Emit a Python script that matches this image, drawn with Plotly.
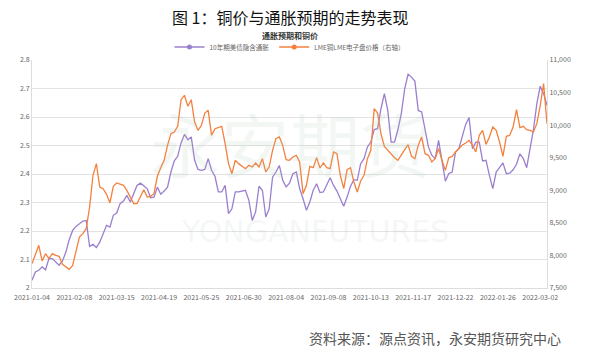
import plotly.graph_objects as go
import pandas as pd

# trading days (two holidays skipped), data sampled every second trading day
holidays = ["2021-05-03", "2021-05-31"]
days = [d.strftime("%Y-%m-%d") for d in pd.bdate_range("2021-01-04", "2022-03-10") if d.strftime("%Y-%m-%d") not in holidays][:305]

breakeven = [2.027, 2.056, 2.062, 2.074, 2.064, 2.103, 2.103, 2.091, 2.080, 2.095,
             2.126, 2.170, 2.202, 2.216, 2.226, 2.235, 2.237, 2.146, 2.153, 2.142,
             2.161, 2.191, 2.220, 2.214, 2.255, 2.263, 2.296, 2.305, 2.325, 2.302,
             2.331, 2.360, 2.368, 2.360, 2.349, 2.317, 2.319, 2.354, 2.329, 2.340,
             2.354, 2.407, 2.446, 2.462, 2.509, 2.539, 2.520, 2.530, 2.448, 2.416,
             2.413, 2.416, 2.454, 2.413, 2.392, 2.337, 2.337, 2.360, 2.261, 2.278,
             2.337, 2.337, 2.340, 2.343, 2.308, 2.237, 2.267, 2.357, 2.343, 2.249,
             2.278, 2.389, 2.407, 2.430, 2.378, 2.355, 2.368, 2.401, 2.407, 2.349,
             2.313, 2.273, 2.302, 2.343, 2.366, 2.335, 2.337, 2.363, 2.387, 2.360,
             2.340, 2.313, 2.287, 2.319, 2.357, 2.380, 2.378, 2.436, 2.454, 2.495,
             2.512, 2.556, 2.559, 2.629, 2.682, 2.623, 2.512, 2.512, 2.556, 2.612,
             2.699, 2.750, 2.740, 2.726, 2.623, 2.618, 2.553, 2.495, 2.466, 2.454,
             2.518, 2.442, 2.375, 2.401, 2.407, 2.477, 2.490, 2.532, 2.574, 2.598,
             2.489, 2.512, 2.512, 2.446, 2.448, 2.395, 2.349, 2.407, 2.425, 2.439,
             2.401, 2.403, 2.415, 2.434, 2.471, 2.454, 2.422, 2.483, 2.556, 2.647,
             2.708, 2.682, 2.641]

copper = [7874, 8027, 8155, 7914, 8027, 7950, 8027, 8001, 7986, 7863,
          7822, 7787, 7848, 8078, 8283, 8334, 8411, 8743, 9230, 9409,
          9050, 9025, 8938, 8805, 9061, 9112, 9091, 9076, 8999, 8897,
          8795, 8795, 8897, 9009, 8897, 8907, 8948, 9215, 9345, 9460,
          9690, 9869, 9895, 9982, 10391, 10458, 10289, 10391, 10048, 9920,
          9997, 10186, 10227, 9844, 9946, 9961, 9982, 9716, 9409, 9255,
          9460, 9409, 9368, 9332, 9383, 9357, 9419, 9357, 9485, 9281,
          9357, 9613, 9792, 9818, 9690, 9470, 9460, 9511, 9537, 9434,
          8948, 9076, 9368, 9347, 9501, 9342, 9419, 9347, 9332, 9588,
          9562, 9230, 9025, 9317, 9347, 9127, 8974, 9143, 9230, 9485,
          9613, 10253, 10186, 9869, 9675, 9613, 9552, 9501, 9460, 9552,
          9624, 9700, 9520, 9485, 9690, 9818, 9562, 9537, 9434, 9485,
          9639, 9460, 9306, 9501, 9521, 9588, 9644, 9695, 9726, 9767,
          9690, 9588, 9844, 9920, 9705, 9818, 9971, 9920, 9741, 9521,
          9828, 9844, 9971, 10238, 9961, 9982, 9931, 9920, 9895, 10023,
          10304, 10637, 10023]

sample_days = days[0::2][:len(copper)]
xpos = [days.index(d) for d in sample_days]
tick_idx = list(range(0, 301, 25))
tick_text = [days[i] for i in tick_idx]

name1 = "10年期美债隐含通胀"
name2 = "LME铜LME电子盘价格（右轴）"
c1 = "#9b7fcf"
c2 = "#f5803e"
font_cjk = "Noto Sans CJK SC"
wm = "rgba(170,195,180,0.14)"

fig = go.Figure()
fig.add_trace(go.Scatter(x=xpos, y=breakeven, mode="lines", line=dict(color=c1, width=1.3),
                         showlegend=False, name=name1))
fig.add_trace(go.Scatter(x=xpos, y=copper, mode="lines", line=dict(color=c2, width=1.3),
                         showlegend=False, name=name2, yaxis="y2"))
fig.add_trace(go.Scatter(x=[None], y=[None], mode="lines+markers", name=name1,
                         line=dict(color=c1, width=1.3), marker=dict(size=5, color=c1)))
fig.add_trace(go.Scatter(x=[None], y=[None], mode="lines+markers", name=name2, yaxis="y2",
                         line=dict(color=c2, width=1.3), marker=dict(size=5, color=c2)))

fig.update_layout(
    width=590, height=354,
    margin=dict(l=32, r=43, t=60, b=66),
    paper_bgcolor="white", plot_bgcolor="white",
    font=dict(family=font_cjk, size=7, color="#666"),
    xaxis=dict(range=[0, 304], tickmode="array", tickvals=tick_idx, ticktext=tick_text,
               showgrid=False, showline=True, linecolor="#ddd", linewidth=1,
               ticks="", ticklabelstandoff=3, tickfont=dict(size=7, color="#666"), zeroline=False),
    yaxis=dict(range=[2.0, 2.8], dtick=0.1, showgrid=True, gridcolor="#e3e3e3",
               showline=True, linecolor="#ddd", zeroline=False,
               tickfont=dict(size=7, color="#666")),
    yaxis2=dict(range=[7500, 11000], dtick=500, tickformat=",d", overlaying="y",
                side="right", showgrid=False, showline=True, linecolor="#ddd",
                zeroline=False, tickfont=dict(size=7, color="#666")),
    legend=dict(orientation="h", x=0.5, xanchor="center", y=1 + (60 - 47) / 228, yanchor="middle",
                font=dict(size=6.5, color="#666"), itemwidth=30, bgcolor="rgba(0,0,0,0)"),
    annotations=[
        dict(text="图 1：铜价与通胀预期的走势表现", x=0.5, y=1 + (60 - 17) / 228, yanchor="middle",
             xref="paper", yref="paper",
             showarrow=False, font=dict(size=16, color="#111", family=font_cjk)),
        dict(text="<b>通胀预期和铜价</b>", x=0.5, y=1 + (60 - 35) / 228, yanchor="middle",
             xref="paper", yref="paper",
             showarrow=False, font=dict(size=8, color="#333", family=font_cjk)),
        dict(text="永安期货", x=0.5, y=0.64, yanchor="middle", xref="paper", yref="paper",
             showarrow=False, font=dict(size=70, color=wm, family=font_cjk)),
        dict(text="YONGANFUTURES", x=0.55, y=0.25, yanchor="middle", xref="paper", yref="paper",
             showarrow=False, font=dict(size=30, color=wm, family="DejaVu Sans")),
        dict(text="资料来源：源点资讯，永安期货研究中心", x=1.032, y=-(338 - 288) / 228,
             xref="paper", yref="paper",
             xanchor="right", yanchor="middle", showarrow=False,
             font=dict(size=14, color="#555", family=font_cjk)),
    ],
)
fig.write_html("out.html")
